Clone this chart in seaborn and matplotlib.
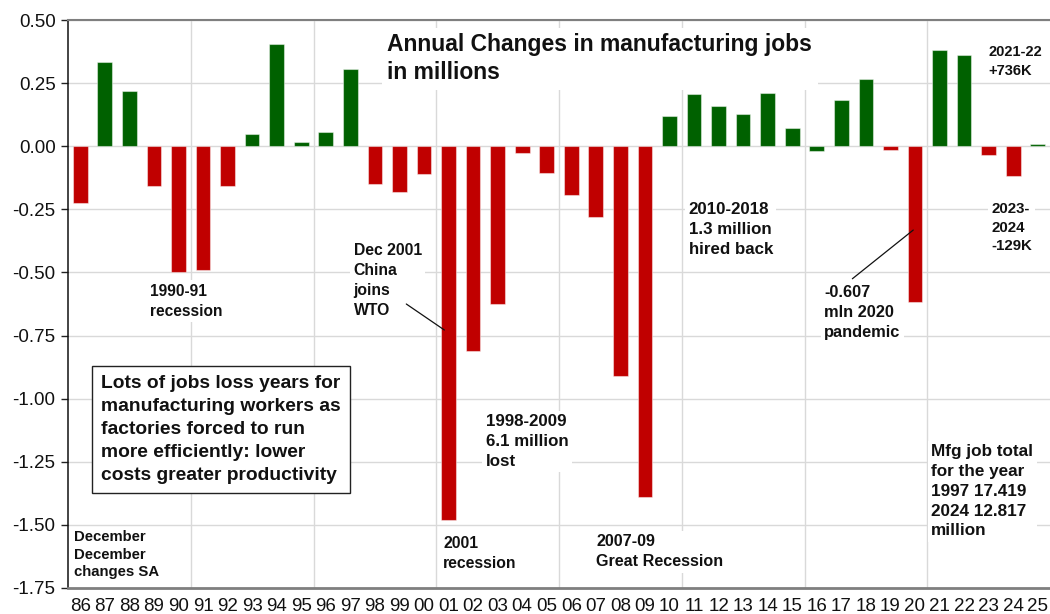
import matplotlib
matplotlib.use("Agg")
import matplotlib.pyplot as plt
import seaborn as sns
import numpy as np
import pandas as pd

# -------------------------------
# DATA
# -------------------------------
years = ['86', '87', '88', '89', '90', '91', '92', '93', '94', '95',
         '96', '97', '98', '99', '00', '01', '02', '03', '04', '05',
         '06', '07', '08', '09', '10', '11', '12', '13', '14', '15',
         '16', '17', '18', '19', '20', '21', '22', '23', '24', '25']
changes = [-0.226, 0.335, 0.220, -0.156, -0.500, -0.490, -0.159, 0.047, 0.406, 0.017,
           0.055, 0.306, -0.150, -0.183, -0.109, -1.481, -0.813, -0.624, -0.027, -0.107,
           -0.192, -0.282, -0.910, -1.390, 0.120, 0.207, 0.159, 0.126, 0.210, 0.072,
           -0.020, 0.183, 0.265, -0.013, -0.618, 0.382, 0.362, -0.036, -0.117, 0.010]
trend = ['loss', 'gain', 'gain', 'loss', 'loss', 'loss', 'loss', 'gain', 'gain', 'gain',
         'gain', 'gain', 'loss', 'loss', 'loss', 'loss', 'loss', 'loss', 'loss', 'loss',
         'loss', 'loss', 'loss', 'loss', 'gain', 'gain', 'gain', 'gain', 'gain', 'gain',
         'gain', 'gain', 'gain', 'loss', 'loss', 'gain', 'gain', 'loss', 'loss', 'gain']
y_ticks = [0.50, 0.25, 0.00, -0.25, -0.50, -0.75, -1.00, -1.25, -1.50, -1.75]

df = pd.DataFrame({'year': years, 'change': changes, 'trend': trend})

# -------------------------------
# STYLE
# -------------------------------
sns.set_theme(style='white')
plt.rcParams['font.family'] = ['Liberation Sans', 'DejaVu Sans']

RED = '#C00000'
GREEN = '#006100'
GRID = '#d9d9d9'

fig = plt.figure(figsize=(10.5, 6.14), dpi=100)
ax = fig.add_axes([68 / 1050, 1 - 588 / 614, (1050 - 68) / 1050, (588 - 20) / 614])

sns.barplot(data=df, x='year', y='change', hue='trend',
            palette={'gain': GREEN, 'loss': RED}, legend=False, saturation=1,
            width=0.6, edgecolor=(1, 1, 1, 0.45), linewidth=0.8,
            order=years, ax=ax)

ax.set_xlim(-0.5, len(years) - 0.5)
ax.set_ylim(-1.75, 0.5)
ax.set_yticks(y_ticks)
ax.set_yticklabels([f'{v:.2f}' for v in y_ticks], fontsize=13.5, color='#111111')
ax.tick_params(axis='x', labelsize=13.5, length=0, pad=7, colors='#111111')
ax.tick_params(axis='y', length=5, width=1, pad=4, direction='out', color='#222222', left=True)
ax.set_xlabel('')
ax.set_ylabel('')

# grid: horizontal at each tick, vertical every 5 years
ax.set_xticks(np.arange(4.5, len(years) - 1, 5), minor=True)
ax.tick_params(axis='x', which='minor', length=0)
ax.grid(axis='y', which='major', color=GRID, linewidth=1)
ax.grid(axis='x', which='minor', color=GRID, linewidth=1)
ax.set_axisbelow(True)

ax.spines['left'].set_color('#111111')
ax.spines['left'].set_linewidth(1.1)
ax.spines['top'].set_color('#7f7f7f')
ax.spines['top'].set_linewidth(1.5)
ax.spines['bottom'].set_color('#7f7f7f')
ax.spines['bottom'].set_linewidth(2)
ax.spines['right'].set_visible(False)

# -------------------------------
# ANNOTATIONS
# -------------------------------
white = dict(facecolor='white', edgecolor='none', pad=2.5)

def note(x, y, s, size=11.5, spacing=1.4, **kw):
    ax.text(x, y, s, fontsize=size, fontweight='bold', ha='left', va='top',
            linespacing=spacing, color='#111111', bbox=kw.pop('bbox', white), zorder=5, **kw)

note(12.5, 0.447, 'Annual Changes in manufacturing jobs\nin millions', size=16.5, spacing=1.28,
     bbox=dict(facecolor='white', edgecolor='none', pad=4))
note(2.83, -0.545, '1990-91\nrecession', size=11.2)
note(11.13, -0.385, 'Dec 2001\nChina\njoins\nWTO', size=11.3)
note(16.52, -1.062, '1998-2009\n6.1 million\nlost', size=12.2)
note(14.78, -1.545, '2001\nrecession', size=11.3)
note(21.02, -1.538, '2007-09\nGreat Recession', size=11.6)
note(24.78, -0.222, '2010-2018\n1.3 million\nhired back', size=12.2)
note(30.31, -0.550, '-0.607\nmln 2020\npandemic', size=11.8)
note(37.0, 0.400, '2021-22\n+736K', size=10.5)
note(37.1, -0.222, '2023-\n2024\n-129K', size=10.8)
note(34.66, -1.180, 'Mfg job total\nfor the year\n1997 17.419\n2024 12.817\nmillion', size=12.3)
note(-0.26, -1.520, 'December\nDecember\nchanges SA', size=10.7, spacing=1.33)
note(0.84, -0.905,
     'Lots of jobs loss years for\nmanufacturing workers as\nfactories forced to run\n'
     'more efficiently: lower\ncosts greater productivity', size=13.9, spacing=1.47,
     bbox=dict(facecolor='white', edgecolor='#222222', linewidth=1, pad=6.5))

# leader lines
ax.plot([13.28, 14.83], [-0.625, -0.728], color='#111111', linewidth=0.9, zorder=6)
ax.plot([31.45, 33.93], [-0.525, -0.332], color='#111111', linewidth=0.9, zorder=6)

plt.savefig('out.png', dpi=100)
plt.close()
